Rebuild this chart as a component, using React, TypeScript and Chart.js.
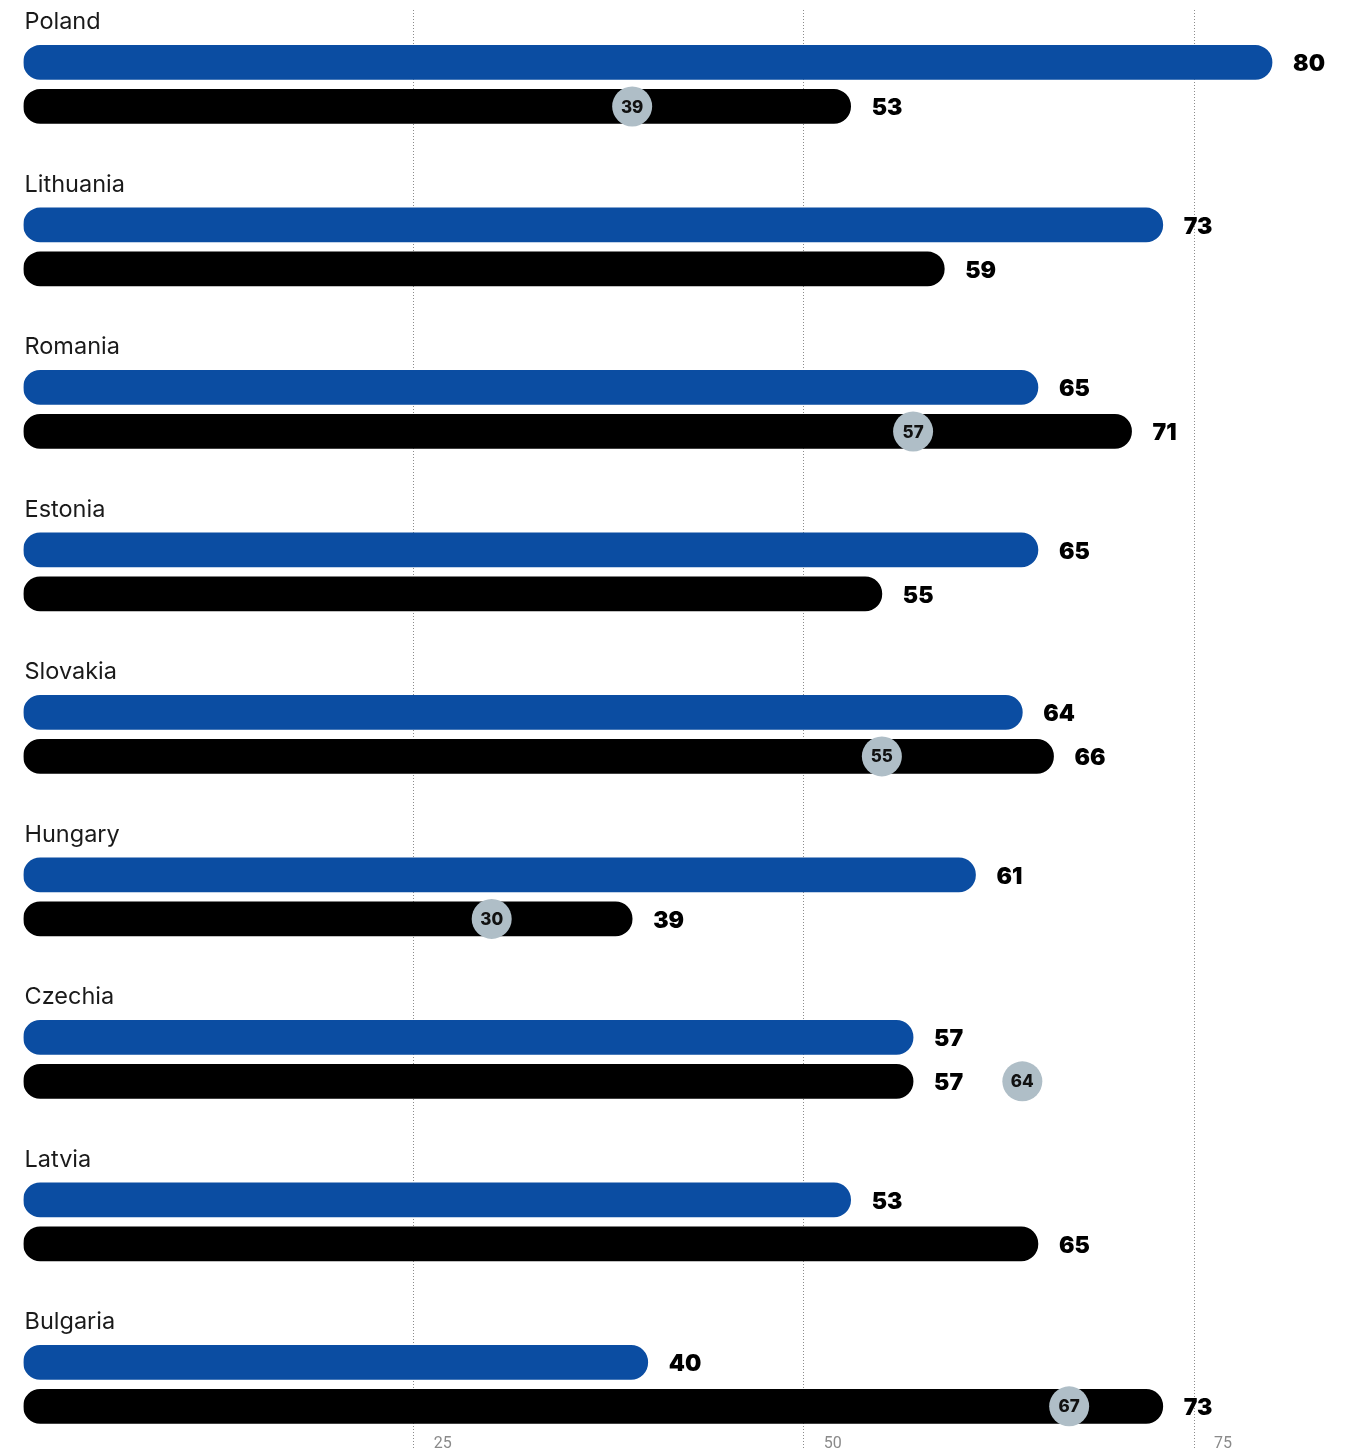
import React, { useEffect, useRef } from "react";
import { Chart, registerables } from "chart.js";

Chart.register(...registerables);

const countries = ["Poland", "Lithuania", "Romania", "Estonia", "Slovakia", "Hungary", "Czechia", "Latvia", "Bulgaria"];
const blueValues = [80, 73, 65, 65, 64, 61, 57, 53, 40];
const blackValues = [53, 59, 71, 55, 66, 39, 57, 65, 73];
const markerValues: (number | null)[] = [39, null, 57, null, 55, 30, 64, null, 67];
const xTickValues = [25, 50, 75];

const BLUE = "#0b4da2";
const BLACK = "#000000";
const MARKER = "#afbec7";

const labelPlugin = {
  id: "valueLabels",
  afterDatasetsDraw(chart: any) {
    const ctx = chart.ctx;
    const xScale = chart.scales.x;
    ctx.save();
    ctx.textAlign = "left";
    ctx.textBaseline = "middle";
    ctx.fillStyle = "#000";
    ctx.font = "900 23px Inter, Roboto, sans-serif";
    chart.data.datasets.forEach((ds: any, di: number) => {
      const meta = chart.getDatasetMeta(di);
      meta.data.forEach((el: any, i: number) => {
        const v = ds.data[i].x;
        ctx.fillText(String(v), el.x + 21, el.y + 2);
      });
    });
    const blackMeta = chart.getDatasetMeta(1);
    markerValues.forEach((m, i) => {
      if (m === null) return;
      const el = blackMeta.data[i];
      const x = xScale.getPixelForValue(m);
      const y = el.y;
      ctx.beginPath();
      ctx.arc(x, y, 20, 0, Math.PI * 2);
      ctx.fillStyle = MARKER;
      ctx.fill();
      ctx.fillStyle = "#111";
      ctx.textAlign = "center";
      ctx.font = "800 17px Inter, Roboto, sans-serif";
      ctx.fillText(String(m), x, y + 1);
    });
    ctx.restore();
  },
};

export default function App() {
  const ref = useRef<HTMLCanvasElement | null>(null);
  useEffect(() => {
    if (!ref.current) return;
    const chart = new Chart(ref.current, {
      type: "bar",
      data: {
        datasets: [
          {
            data: blueValues.map((v, i) => ({ x: v, y: i })),
            backgroundColor: BLUE,
            barThickness: 44,
            maxBarThickness: 34,
            borderRadius: 17,
            borderSkipped: false,
          },
          {
            data: blackValues.map((v, i) => ({ x: v, y: i })),
            backgroundColor: BLACK,
            barThickness: 44,
            maxBarThickness: 34,
            borderRadius: 17,
            borderSkipped: false,
          },
        ],
      } as any,
      options: {
        indexAxis: "y",
        responsive: false,
        animation: false,
        layout: { padding: { left: 21.5, top: 10, right: 0, bottom: 0 } },
        plugins: { legend: { display: false }, tooltip: { enabled: false } },
        scales: {
          x: {
            type: "linear",
            position: "bottom",
            min: 0,
            max: 85.7,
            afterBuildTicks: (s: any) => {
              s.ticks = xTickValues.map((v) => ({ value: v }));
            },
            grid: { color: "#8c8c8c", lineWidth: 1, drawTicks: false },
            border: { display: false, dash: [1, 2] },
            ticks: {
              mirror: true,
              padding: 0,
              align: "start",
              labelOffset: 20,
              maxRotation: 0,
              autoSkip: false,
              color: "#8a8a8a",
              font: { family: "Roboto", size: 16, lineHeight: 0.8 },
            },
          },
          y: {
            type: "linear",
            position: "left",
            reverse: true,
            offset: false,
            min: -0.458,
            max: 8.404,
            afterBuildTicks: (s: any) => {
              s.ticks = countries.map((_, i) => ({ value: i }));
            },
            grid: { display: false, drawTicks: false, offset: false },
            border: { display: false },
            ticks: {
              mirror: true,
              padding: 1,
              labelOffset: -62,
              autoSkip: false,
              color: "#1a1a1a",
              font: { family: "Inter", size: 23.5, lineHeight: 0 },
              callback: (v: any) => countries[v] ?? "",
            },
          },
        },
      } as any,
      plugins: [labelPlugin],
    });
    return () => chart.destroy();
  }, []);
  return (
    <div style={{ position: "absolute", left: 0, top: 0, width: 1361, height: 1451, overflow: "hidden" }}>
      <canvas ref={ref} width={1361} height={1451} style={{ width: 1361, height: 1451, display: "block" }} />
    </div>
  );
}
